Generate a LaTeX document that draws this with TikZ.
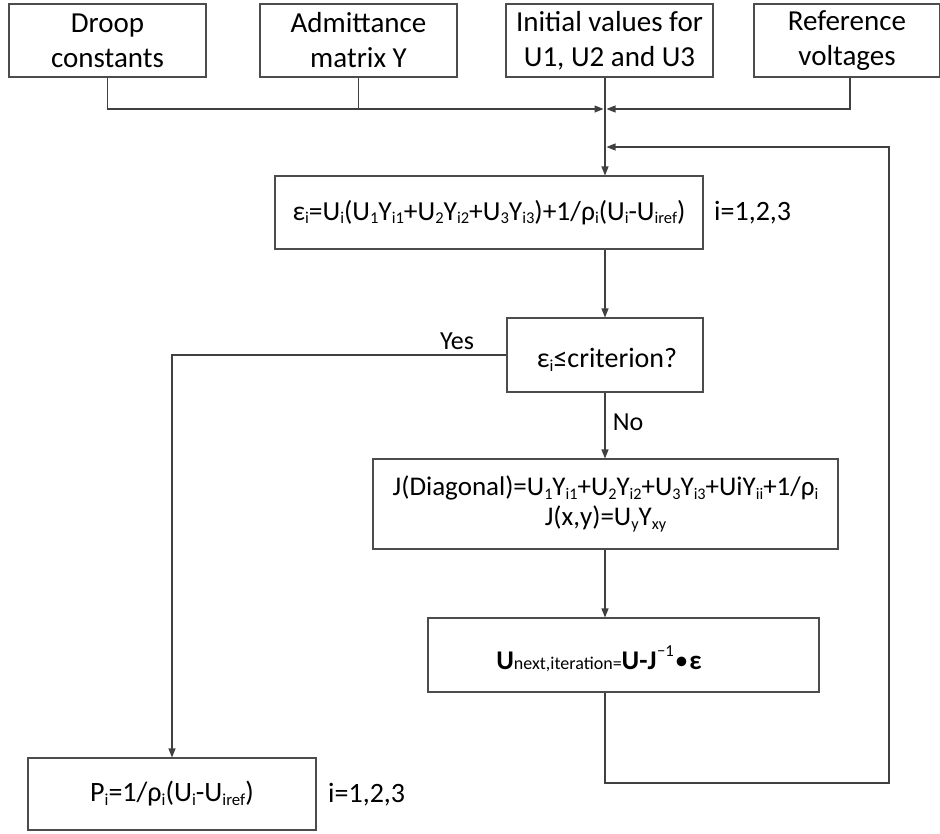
\documentclass[tikz,border=0pt]{standalone}
\usepackage{fontspec}
\setmainfont{Carlito}
\usepackage{graphicx}
\usetikzlibrary{arrows.meta}
% small lowered / raised indices in running text
\newcommand\lo[1]{\raisebox{-0.12em}{\scalebox{0.6}{#1}}}
\newcommand\hi[1]{\raisebox{0.5em}{\scalebox{0.62}{#1}}}

\begin{document}
\begin{tikzpicture}[x=1pt,y=-1pt,
  box/.style={draw=black!70, line width=1.1pt, rectangle, inner sep=0pt,
    align=center, font=\fontsize{28}{32}\selectfont},
  topbox/.style={box, minimum height=73, font=\fontsize{29}{35}\selectfont},
  txt/.style={inner sep=0pt, align=center},
  wire/.style={draw=black!75, line width=1.1pt},
  arr/.style={wire, -{Triangle[length=9pt,width=7pt]}},
  lbl/.style={inner sep=0pt, font=\fontsize{26}{30}\selectfont}]
\useasboundingbox (0,0) rectangle (940,833);

% inputs
\node[topbox, minimum width=197] (b1) at (107.5,40.5) {Droop\\constants};
\node[topbox, minimum width=197] (b2) at (358.5,40.5) {Admittance\\matrix Y};
\node[topbox, minimum width=207] (b3) at (609.5,40.5) {Initial values for\\U1, U2 and U3};
\node[topbox, minimum width=186] (b4) at (847,40.5) {Reference\\voltages};

\coordinate (m) at (605,109);
\coordinate (lb) at (605,783);
\coordinate (lr) at (889,147);

% iteration steps
\node[box, minimum width=428, minimum height=73, font=\fontsize{27.5}{32}\selectfont] (eps) at (489,212.5)
  {ε\lo{i}=U\lo{i}(U\lo{1}Y\lo{i1}+U\lo{2}Y\lo{i2}+U\lo{3}Y\lo{i3})+1/ρ\lo{i}(U\lo{i}-U\lo{iref})};
\node[lbl, anchor=west, font=\fontsize{28}{32}\selectfont] (ir1) at (714,213) {i=1,2,3};

\node[box, minimum width=196, minimum height=74] (crit) at (605,355) {};
\node[txt, font=\fontsize{28}{32}\selectfont] (critt) at (607,360) {ε\lo{i}≤criterion?};

\node[box, minimum width=465, minimum height=90, font=\fontsize{27}{30}\selectfont] (jac) at (605.5,504)
  {J(Diagonal)=U\lo{1}Y\lo{i1}+U\lo{2}Y\lo{i2}+U\lo{3}Y\lo{i3}+UiY\lo{ii}+1/ρ\lo{i}\\
   J(x,y)=U\lo{y}Y\lo{xy}};

\node[box, minimum width=391, minimum height=74] (upd) at (623.5,655) {};
\node[txt, font=\fontsize{27}{30}\selectfont] (updt) at (599,659)
  {\textbf{U}{\fontsize{18}{20}\selectfont next,iteration=}\textbf{U-J}\kern0.5pt\hi{−1}\kern1pt•\kern1pt\textbf{ε}};

\node[box, minimum width=288, minimum height=72] (pwr) at (172,794)
  {P\lo{i}=1/ρ\lo{i}(U\lo{i}-U\lo{iref})};
\node[lbl, anchor=west, font=\fontsize{28}{32}\selectfont] (ir2) at (328,795) {i=1,2,3};

% collecting the inputs
\draw[arr] (b1.south) |- ([xshift=-1.5pt]m);
\draw[wire] (b2.south) -- (b2.south |- m);
\draw[arr] ([xshift=3pt]b4.south) |- ([xshift=1.5pt]m);
\draw[arr] (m |- b3.south) -- (m |- eps.north);

% main flow
\draw[arr] (m |- eps.south) -- (m |- crit.north);
\draw[arr] (m |- crit.south) -- (m |- jac.north);
\draw[arr] (m |- jac.south) -- (m |- upd.north);
\draw[arr] (crit.west) -| (pwr.north);

% loop back
\draw[arr] (m |- upd.south) -- (lb) -| (lr) -- ([xshift=1.5pt]m |- lr);

\node[lbl] (yes) at (457,341) {Yes};
\node[lbl] (no) at (628,422) {No};
\end{tikzpicture}
\end{document}
